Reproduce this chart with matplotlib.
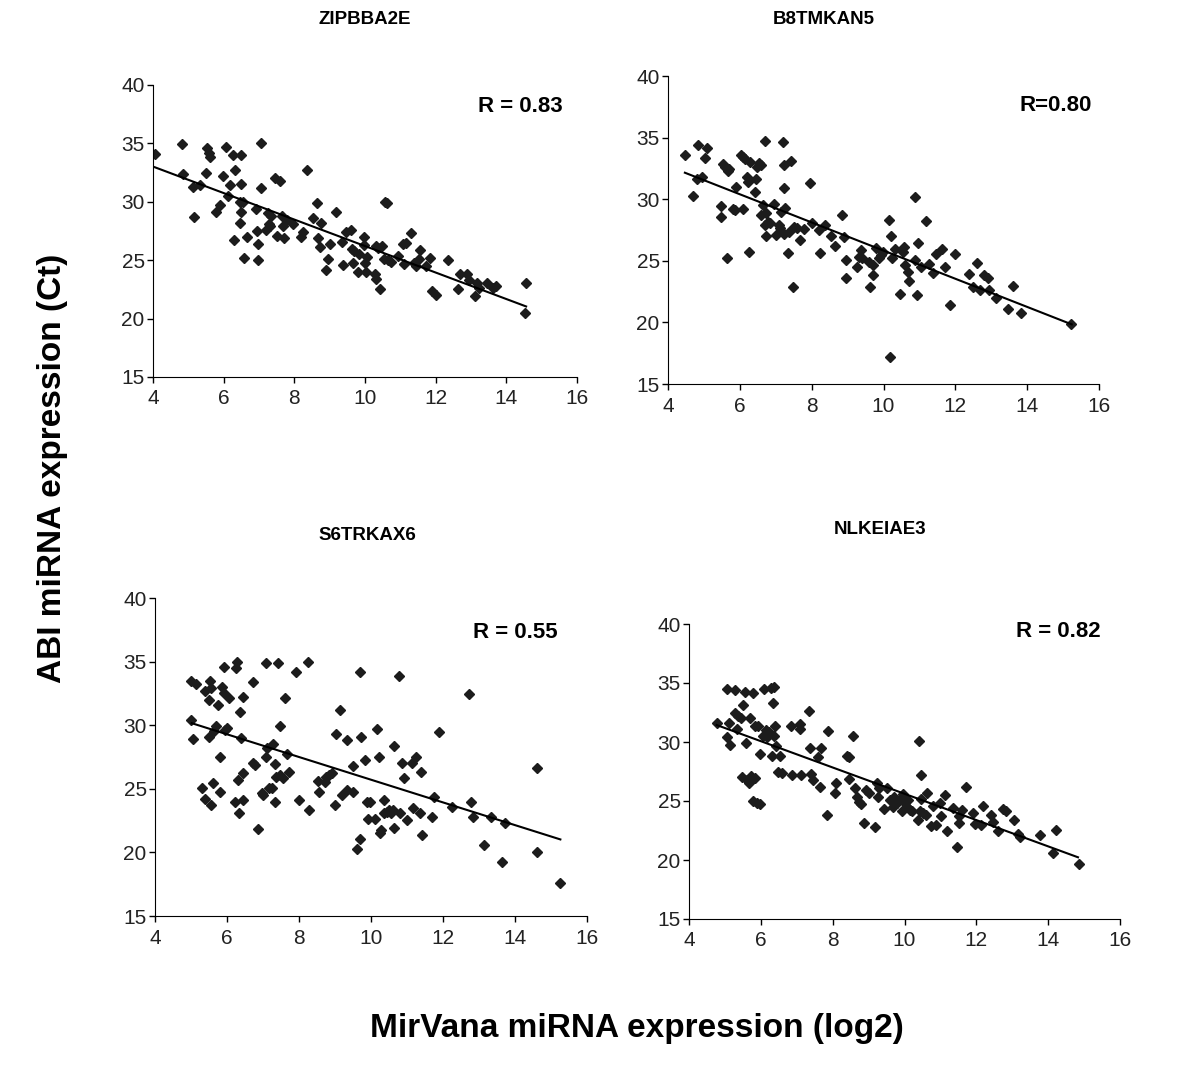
import numpy as np
import matplotlib
matplotlib.use('Agg')
import matplotlib.pyplot as plt

plt.rcParams['font.family'] = ['Liberation Sans', 'DejaVu Sans']

# --- panel titles / R values
titles = ['ZIPBBA2E', 'B8TMKAN5', 'S6TRKAX6', 'NLKEIAE3']
r_labels = ['R = 0.83', 'R=0.80', 'R = 0.55', 'R = 0.82']

# --- ZIPBBA2E
zip_x = [4.05, 4.83, 4.85, 5.12, 5.15, 5.33, 5.5, 5.52, 5.59, 5.6, 5.77, 5.9, 5.97, 6.07, 6.12,
         6.18, 6.25, 6.28, 6.32, 6.45, 6.47, 6.5, 6.5, 6.5, 6.55, 6.57, 6.67, 6.92, 6.95, 6.97,
         6.97, 7.07, 7.07, 7.2, 7.25, 7.28, 7.3, 7.35, 7.45, 7.5, 7.6, 7.64, 7.67, 7.7, 7.78,
         7.97, 8.2, 8.25, 8.37, 8.52, 8.65, 8.66, 8.72, 8.75, 8.9, 8.95, 9.02, 9.17, 9.34, 9.38,
         9.46, 9.6, 9.62, 9.66, 9.69, 9.79, 9.82, 9.96, 9.98, 10.0, 10.03, 10.05, 10.27, 10.3, 10.32,
         10.36, 10.42, 10.48, 10.55, 10.58, 10.62, 10.65, 10.74, 10.93, 11.07, 11.1, 11.17, 11.31, 11.38, 11.43,
         11.52, 11.57, 11.72, 11.83, 11.9, 12.02, 12.35, 12.63, 12.68, 12.9, 12.95, 13.1, 13.18, 13.23, 13.44,
         13.61, 13.72, 14.56, 14.53]
zip_y = [34.07, 34.93, 32.4, 31.3, 28.7, 31.45, 32.5, 34.6, 34.2, 33.8, 29.1, 29.75, 32.2, 34.7, 30.5,
         31.4, 34.0, 26.75, 32.7, 29.95, 28.2, 34.0, 31.55, 29.1, 29.95, 25.15, 27.0, 29.4, 27.5, 26.35,
         25.05, 35.0, 31.2, 27.6, 29.0, 28.1, 27.9, 28.75, 32.0, 27.1, 31.8, 28.8, 27.95, 26.9, 28.45,
         28.1, 26.95, 27.45, 32.7, 28.6, 29.9, 26.9, 26.1, 28.2, 24.2, 25.1, 26.4, 29.1, 26.6, 24.6,
         27.4, 27.55, 26.0, 24.8, 25.75, 23.95, 25.5, 27.0, 26.3, 24.75, 23.95, 25.3, 23.8, 23.4, 26.25,
         26.05, 22.55, 26.2, 25.1, 30.0, 29.9, 25.0, 24.85, 25.4, 26.4, 24.7, 26.5, 27.3, 24.75, 24.5,
         25.1, 25.9, 24.5, 25.15, 22.4, 22.0, 25.05, 22.55, 23.8, 23.8, 23.3, 21.9, 23.05, 22.6, 23.05,
         22.65, 22.75, 23.05, 20.5]
zip_fit_x = [4.05, 14.56]
zip_fit_y = [32.96, 21.04]

# --- B8TMKAN5
b8t_x = [4.46, 4.69, 4.81, 4.84, 4.95, 5.04, 5.08, 5.47, 5.47, 5.52, 5.59, 5.63, 5.66, 5.7, 5.81,
         5.87, 5.9, 6.03, 6.09, 6.09, 6.15, 6.21, 6.24, 6.26, 6.29, 6.42, 6.44, 6.47, 6.53, 6.58,
         6.6, 6.64, 6.69, 6.7, 6.72, 6.73, 6.78, 6.83, 6.94, 7.0, 7.08, 7.12, 7.16, 7.2, 7.23,
         7.24, 7.27, 7.24, 7.34, 7.38, 7.42, 7.47, 7.5, 7.6, 7.68, 7.79, 7.95, 8.02, 8.21, 8.24,
         8.38, 8.54, 8.65, 8.85, 8.91, 8.96, 8.96, 9.26, 9.31, 9.38, 9.41, 9.6, 9.63, 9.7, 9.72,
         9.8, 9.87, 9.93, 9.98, 10.15, 10.19, 10.21, 10.24, 10.33, 10.45, 10.54, 10.58, 10.61, 10.68, 10.72,
         10.89, 10.89, 10.94, 10.97, 11.05, 11.19, 11.26, 11.37, 11.47, 11.63, 11.7, 11.86, 12.0, 12.38, 12.61,
         12.49, 12.68, 12.8, 12.91, 12.93, 13.14, 13.46, 13.6, 13.83, 15.23]
b8t_y = [33.59, 30.26, 31.64, 34.43, 31.83, 33.37, 34.18, 28.58, 29.45, 32.83, 32.64, 25.2, 32.31, 32.42, 29.18,
         29.12, 30.96, 33.59, 33.4, 29.18, 33.29, 31.83, 31.37, 25.74, 33.02, 30.58, 31.62, 32.64, 32.91, 32.78,
         28.72, 29.53, 34.75, 27.91, 27.01, 28.85, 28.18, 28.04, 29.61, 27.09, 27.91, 27.64, 28.93, 34.64, 32.78,
         30.88, 29.26, 27.15, 25.61, 27.34, 33.13, 22.85, 27.77, 27.64, 26.69, 27.55, 31.29, 28.04, 27.5, 25.61,
         27.91, 27.01, 26.2, 28.72, 26.96, 25.06, 23.58, 24.47, 25.34, 25.88, 25.2, 24.93, 22.85, 24.66, 23.85,
         26.02, 25.2, 25.47, 25.74, 28.31, 17.16, 27.01, 25.2, 25.93, 22.31, 25.74, 26.15, 24.66, 24.12, 23.36,
         30.21, 25.06, 22.23, 26.47, 24.52, 28.26, 24.71, 23.98, 25.55, 25.96, 24.47, 21.41, 25.53, 23.9, 24.79,
         22.9, 22.63, 23.85, 23.58, 22.63, 21.95, 21.06, 22.95, 20.74, 19.84]
b8t_fit_x = [4.47, 15.24]
b8t_fit_y = [32.15, 19.84]

# --- S6TRKAX6
s6t_x = [5.0, 4.99, 5.05, 5.14, 5.3, 5.38, 5.38, 5.49, 5.51, 5.53, 5.55, 5.56, 5.6, 5.63, 5.69,
         5.74, 5.81, 5.81, 5.86, 5.91, 5.93, 5.95, 6.0, 6.05, 6.23, 6.26, 6.28, 6.31, 6.34, 6.37,
         6.4, 6.44, 6.44, 6.45, 6.73, 6.72, 6.79, 6.87, 6.96, 7.01, 7.07, 7.07, 7.12, 7.16, 7.24,
         7.27, 7.32, 7.32, 7.35, 7.41, 7.46, 7.48, 7.55, 7.6, 7.66, 7.73, 7.91, 8.0, 8.26, 8.28,
         8.54, 8.56, 8.71, 8.76, 8.84, 8.91, 9.0, 9.04, 9.14, 9.19, 9.32, 9.32, 9.51, 9.51, 9.61,
         9.69, 9.69, 9.72, 9.84, 9.88, 9.97, 9.93, 10.1, 10.17, 10.23, 10.26, 10.29, 10.35, 10.37, 10.44,
         10.51, 10.56, 10.6, 10.65, 10.65, 10.79, 10.81, 10.86, 10.93, 10.99, 11.14, 11.18, 11.26, 11.37, 11.4,
         11.42, 11.7, 11.75, 11.89, 12.25, 12.72, 12.77, 12.84, 13.14, 13.33, 13.63, 13.72, 14.6, 14.6, 15.26]
s6t_y = [33.49, 30.37, 28.95, 33.2, 25.04, 24.23, 32.7, 29.1, 32.0, 33.44, 32.91, 23.7, 25.49, 29.53, 29.97,
         31.6, 27.48, 24.75, 32.99, 34.54, 32.52, 29.63, 29.76, 32.13, 23.94, 34.49, 34.93, 25.7, 23.07, 31.02,
         28.98, 32.18, 24.12, 26.22, 33.39, 27.01, 26.88, 21.81, 24.7, 24.51, 34.88, 27.53, 28.19, 25.09, 25.09,
         28.5, 26.96, 23.94, 25.96, 34.88, 29.95, 26.09, 25.83, 32.13, 27.72, 26.3, 34.17, 24.12, 34.93, 23.33,
         25.62, 24.72, 25.56, 25.9, 26.12, 26.22, 23.73, 29.29, 31.21, 24.51, 24.91, 28.85, 26.8, 24.75, 20.24,
         34.2, 21.02, 29.11, 27.27, 23.94, 23.96, 22.65, 22.65, 29.74, 27.53, 21.5, 21.76, 24.12, 23.07, 23.2,
         23.33, 23.07, 23.33, 21.89, 28.4, 33.88, 23.07, 27.01, 25.83, 22.55, 27.06, 23.46, 27.48, 23.07, 26.3,
         21.36, 22.76, 24.33, 29.45, 23.6, 32.44, 23.94, 22.81, 20.58, 22.76, 19.21, 22.28, 26.61, 20.0, 17.56]
s6t_fit_x = [5.02, 15.26]
s6t_fit_y = [30.16, 21.02]

# --- NLKEIAE3
nlk_x = [4.79, 5.05, 5.07, 5.12, 5.15, 5.28, 5.28, 5.35, 5.37, 5.44, 5.47, 5.49, 5.56, 5.58, 5.62,
         5.67, 5.69, 5.74, 5.77, 5.79, 5.83, 5.83, 5.88, 5.93, 5.97, 5.97, 6.05, 6.09, 6.13, 6.16,
         6.22, 6.27, 6.3, 6.33, 6.36, 6.36, 6.39, 6.42, 6.48, 6.53, 6.6, 6.83, 6.86, 7.09, 7.09,
         7.13, 7.34, 7.37, 7.41, 7.44, 7.6, 7.64, 7.67, 7.85, 7.88, 8.06, 8.09, 8.39, 8.46, 8.46,
         8.57, 8.62, 8.69, 8.74, 8.79, 8.88, 8.93, 9.02, 9.18, 9.23, 9.25, 9.3, 9.43, 9.5, 9.61,
         9.67, 9.71, 9.78, 9.86, 9.92, 9.96, 10.01, 10.06, 10.1, 10.15, 10.22, 10.38, 10.41, 10.43, 10.46,
         10.47, 10.52, 10.59, 10.63, 10.73, 10.78, 10.89, 10.98, 11.03, 11.12, 11.19, 11.34, 11.45, 11.52, 11.53,
         11.61, 11.72, 11.9, 11.95, 12.14, 12.19, 12.42, 12.47, 12.61, 12.75, 12.82, 13.05, 13.16, 13.21, 13.76,
         14.14, 14.23, 14.86]
nlk_y = [31.58, 34.46, 30.45, 31.58, 29.75, 34.41, 32.43, 31.1, 32.2, 32.01, 27.06, 33.14, 34.27, 29.89, 26.78,
         26.55, 32.01, 27.12, 34.18, 25.0, 31.38, 26.92, 24.8, 31.36, 28.98, 24.72, 30.51, 34.52, 31.02, 30.4,
         30.88, 34.55, 28.81, 33.33, 34.69, 30.51, 31.38, 29.66, 27.49, 28.81, 27.34, 31.38, 27.2, 31.53, 31.07,
         27.2, 32.63, 29.46, 27.29, 26.78, 28.76, 26.21, 29.52, 23.81, 30.93, 25.71, 26.5, 28.81, 28.76, 26.84,
         30.51, 26.07, 25.31, 24.94, 24.75, 23.11, 25.93, 25.71, 22.77, 26.55, 25.31, 26.07, 24.35, 26.13, 25.08,
         24.52, 25.37, 24.86, 25.08, 24.18, 25.59, 24.8, 24.46, 25.08, 24.24, 24.18, 23.39, 30.11, 24.18, 27.2,
         25.14, 23.95, 23.81, 25.65, 22.88, 24.58, 22.97, 24.8, 23.73, 25.51, 22.49, 24.38, 21.07, 23.11, 23.73,
         24.24, 26.16, 23.95, 23.05, 22.97, 24.58, 23.81, 23.25, 22.49, 24.29, 24.18, 23.39, 22.2, 21.98, 22.12,
         20.56, 22.54, 19.66]
nlk_fit_x = [4.77, 14.83]
nlk_fit_y = [31.44, 20.23]

xs = [zip_x, b8t_x, s6t_x, nlk_x]
ys = [zip_y, b8t_y, s6t_y, nlk_y]
fit_xs = [zip_fit_x, b8t_fit_x, s6t_fit_x, nlk_fit_x]
fit_ys = [zip_fit_y, b8t_fit_y, s6t_fit_y, nlk_fit_y]

W, H = 1200, 1068
fig = plt.figure(figsize=(W / 100, H / 100), dpi=100)

# axes boxes in pixels: left, top, right, bottom
boxes = [(153, 85, 577, 377), (668, 76, 1099, 384), (155, 598, 587, 916), (689, 624, 1120, 919)]
title_pos = [(365, 20), (824, 20), (367, 536), (880, 530)]
r_pos = [(0.965, 0.925), (0.984, 0.903), (0.933, 0.893), (0.954, 0.973)]

for i in range(4):
    l, t, r, b = boxes[i]
    ax = fig.add_axes([l / W, 1 - b / H, (r - l) / W, (b - t) / H])
    ax.plot(xs[i], ys[i], 'D', color='#1c1c1c', ms=4.6, mec='#1c1c1c')
    ax.plot(fit_xs[i], fit_ys[i], '-', color='black', lw=1.5)
    ax.set_xlim(4, 16)
    ax.set_ylim(15, 40)
    ax.set_xticks(np.arange(4, 17, 2))
    ax.set_yticks(np.arange(15, 41, 5))
    ax.spines['top'].set_visible(False)
    ax.spines['right'].set_visible(False)
    ax.tick_params(direction='out', length=4, width=1, labelsize=15, labelcolor='#222222')
    ax.tick_params(axis='x', pad=5)
    ax.tick_params(axis='y', pad=2)
    ax.text(r_pos[i][0], r_pos[i][1], r_labels[i], transform=ax.transAxes, ha='right', va='center',
            fontsize=16, fontweight='bold')
    fig.text(title_pos[i][0] / W, 1 - title_pos[i][1] / H, titles[i], ha='center', va='center',
             fontsize=13.5, fontweight='bold')

fig.text(53 / W, 1 - 468 / H, 'ABI miRNA expression (Ct)', rotation=90, ha='center', va='center',
         fontsize=24, fontweight='bold')
fig.text(637 / W, 1 - 1028 / H, 'MirVana miRNA expression (log2)', ha='center', va='center',
         fontsize=24, fontweight='bold')

fig.savefig('out.png', dpi=100)
